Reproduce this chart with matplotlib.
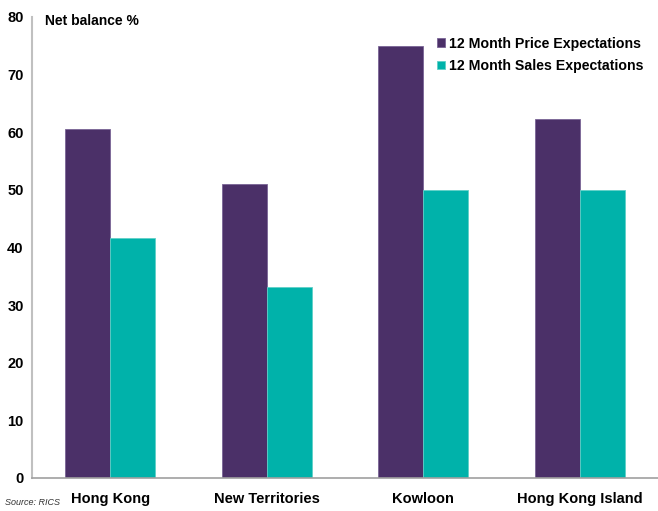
import matplotlib
matplotlib.use("Agg")
import matplotlib.pyplot as plt
import numpy as np

plt.rcParams["font.family"] = ["Liberation Sans", "DejaVu Sans"]

categories = ["Hong Kong", "New Territories", "Kowloon", "Hong Kong Island"]
price_expectations = [60.6, 51.0, 75.0, 62.3]
sales_expectations = [41.7, 33.2, 50.0, 50.0]
series_labels = ["12 Month Price Expectations", "12 Month Sales Expectations"]
yticks = [0, 10, 20, 30, 40, 50, 60, 70, 80]

purple = "#4B3068"
teal = "#00B2AA"

fig = plt.figure(figsize=(6.58, 5.11), dpi=100)
ax = fig.add_axes([0.0486, 0.0646, 0.9514, 0.9024])

x = np.arange(len(categories))
w = 0.287
ax.bar(x - w / 2, price_expectations, w, color=purple, edgecolor="#7a6496", linewidth=0.6, label=series_labels[0])
ax.bar(x + w / 2, sales_expectations, w, color=teal, edgecolor="#5fd0c8", linewidth=0.6, label=series_labels[1])

ax.set_xlim(-0.5, 3.5)
ax.set_ylim(0, 80)
ax.set_yticks(yticks)
ax.set_yticklabels([str(t) for t in yticks], fontsize=10.5, fontweight="bold")
ax.set_xticks(x)
ax.set_xticklabels(categories, fontsize=10.5, fontweight="bold")
ax.tick_params(axis="both", length=0)
ax.tick_params(axis="y", pad=6)
ax.tick_params(axis="x", pad=10)

for s in ["top", "right"]:
    ax.spines[s].set_visible(False)
ax.spines["left"].set_color("#c0c0c0")
ax.spines["bottom"].set_color("#a0a0a0")
ax.spines["left"].set_linewidth(1.5)
ax.spines["bottom"].set_linewidth(1.2)

fig.text(0.068, 0.958, "Net balance %", fontsize=10, fontweight="bold", va="center")

leg = ax.legend(loc="upper left", bbox_to_anchor=(0.627, 0.985), frameon=False,
                prop={"size": 10.2, "weight": "bold"}, handlelength=0.55, handleheight=0.55,
                handletextpad=0.3, labelspacing=0.6)

fig.text(0.008, 0.012, "Source: RICS", fontsize=6.5, style="italic", color="#333333")

fig.savefig("out.png", dpi=100)
